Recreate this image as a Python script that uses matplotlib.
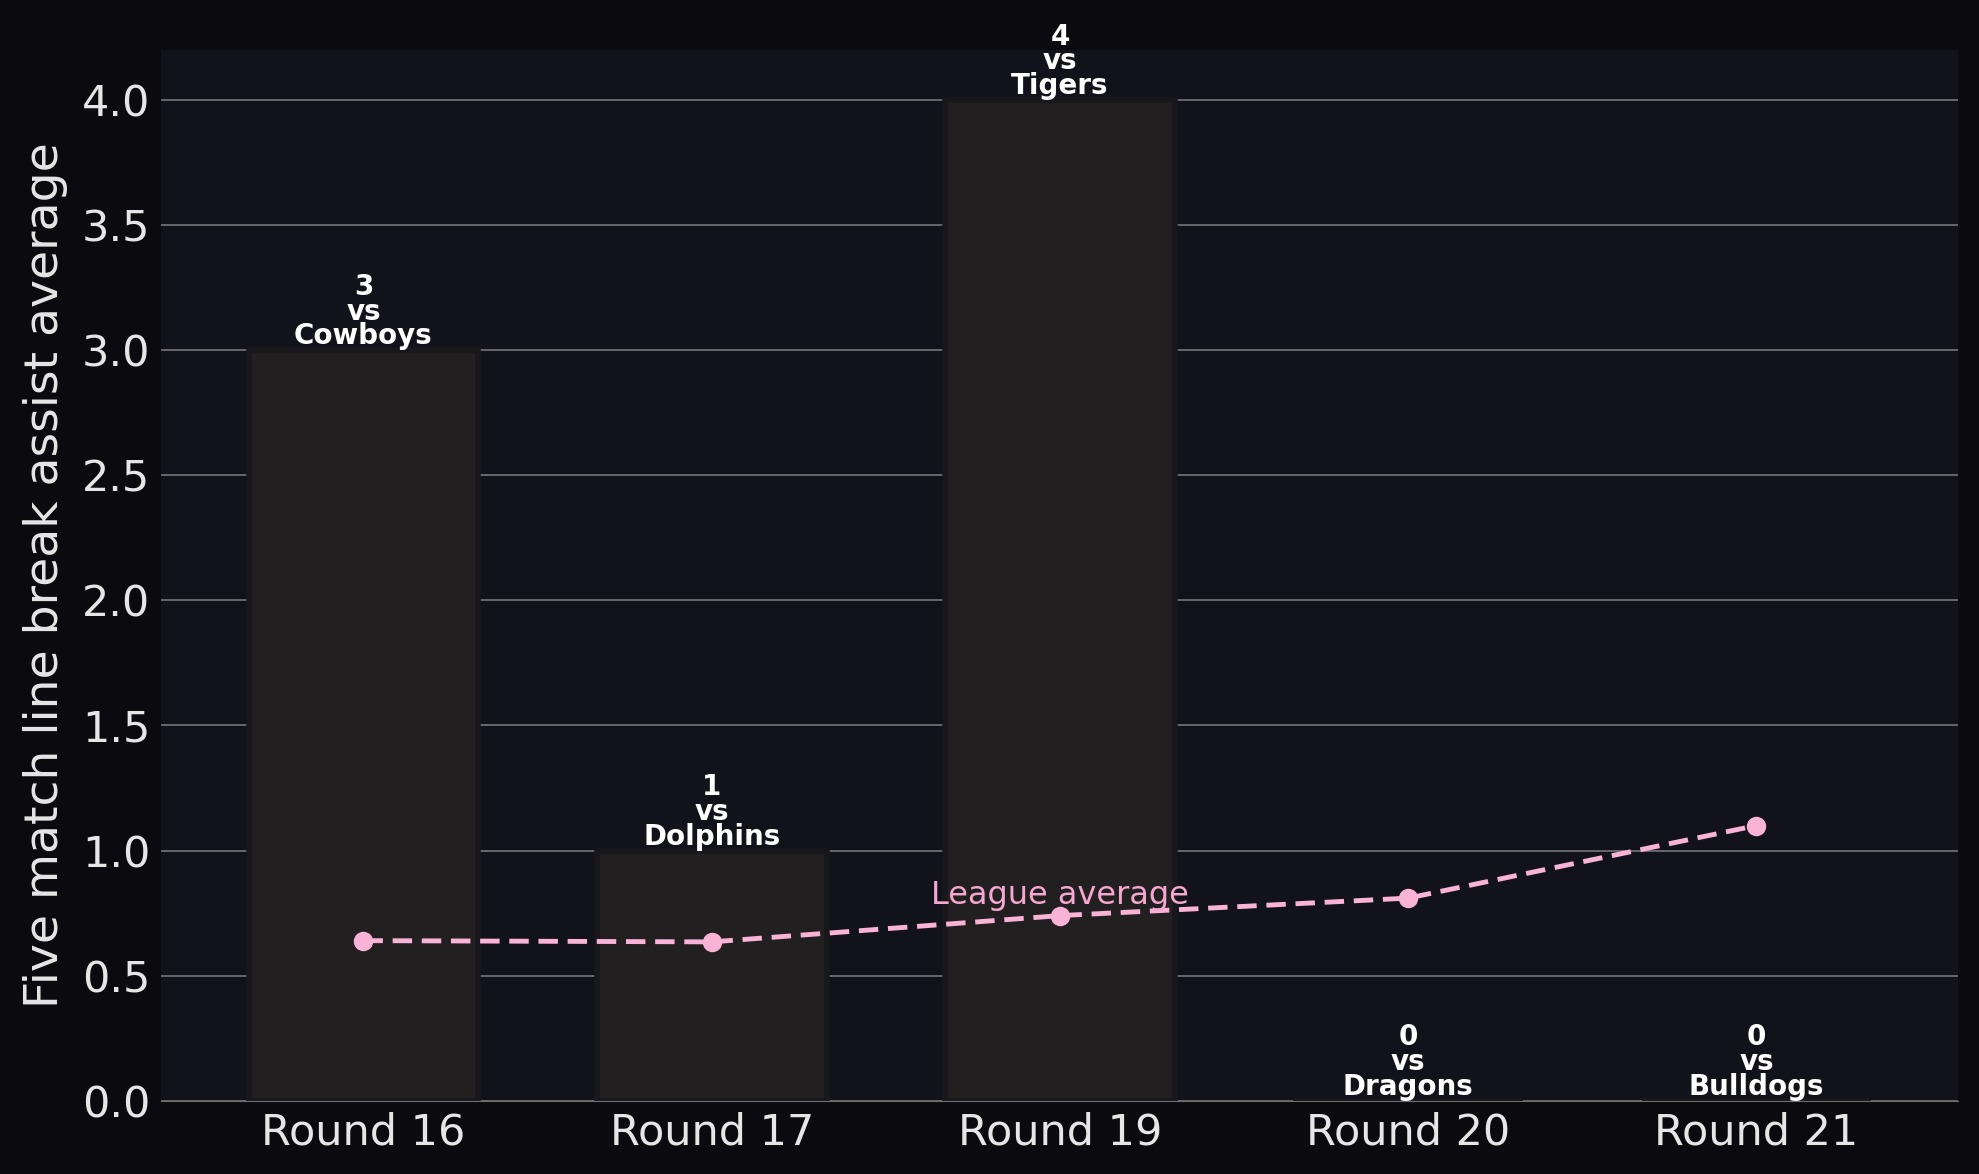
import matplotlib
matplotlib.use("Agg")
import matplotlib.pyplot as plt

rounds = ["Round 16", "Round 17", "Round 19", "Round 20", "Round 21"]
values = [3, 1, 4, 0, 0]
opponents = ["Cowboys", "Dolphins", "Tigers", "Dragons", "Bulldogs"]
league_avg = [0.64, 0.635, 0.74, 0.81, 1.10]

fig = plt.figure(figsize=(19.79, 11.74), dpi=100, facecolor="#0b0b0f")
ax = fig.add_axes([0.0816, 0.0624, 0.908, 0.895])
ax.set_facecolor("#12121a")
x = range(len(rounds))
ax.bar(x, values, width=0.66, color="#221f20", edgecolor="#18171c", linewidth=4, zorder=2)
ax.plot(x, league_avg, "--", color="#f9b3d6", lw=3.5, marker="o", ms=13, zorder=4, dashes=(4, 2))
ax.text(2, 0.76, "League average", color="#f4a7cf", fontsize=23, ha="center", va="bottom", zorder=5)
for i, (v, o) in enumerate(zip(values, opponents)):
    ax.text(i, v, f"{v}\nvs\n{o}", ha="center", va="bottom", color="white",
            fontsize=20, fontweight="bold", linespacing=0.85, zorder=5)
ax.set_ylim(0, 4.2)
ax.set_xlim(-0.58, 4.58)
ax.set_yticks([0, 0.5, 1, 1.5, 2, 2.5, 3, 3.5, 4])
ax.set_yticklabels([f"{t:.1f}" for t in [0, 0.5, 1, 1.5, 2, 2.5, 3, 3.5, 4]])
ax.set_xticks(list(x))
ax.set_xticklabels(rounds)
ax.tick_params(colors="#e6e6e6", labelsize=31, length=0, pad=8)
ax.yaxis.grid(True, color="#6e6e72", lw=1.3, zorder=1)
ax.set_axisbelow(True)
for s in ["top", "right", "left"]:
    ax.spines[s].set_visible(False)
ax.spines["bottom"].set_color("#6e6e72")
ax.set_ylabel("Five match line break assist average", color="#e6e6e6", fontsize=34, labelpad=10)
fig.savefig("out.png", facecolor=fig.get_facecolor())
